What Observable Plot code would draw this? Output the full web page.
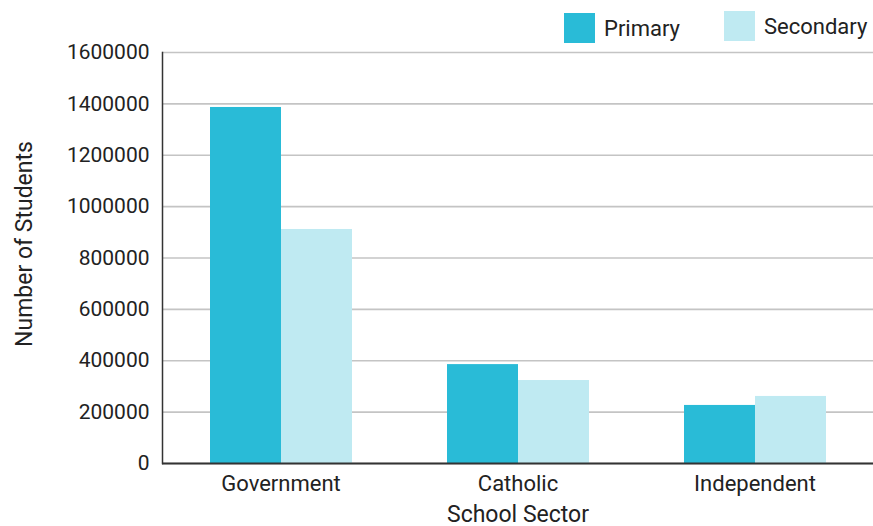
<!DOCTYPE html>
<html>
<head>
<meta charset="utf-8">
<script src="https://cdn.jsdelivr.net/npm/d3@7"></script>
<script src="https://cdn.jsdelivr.net/npm/@observablehq/plot@0.6"></script>
<style>
  body { margin: 0; background: #fff; font-family: Roboto, sans-serif; }
  #wrap { width: 873px; height: 526px; position: relative; overflow: hidden; }
  #legend { height: 40px; position: relative; }
  .item { position: absolute; display: flex; align-items: center; font-size: 22px; color: #222; }
  .sw { width: 31px; height: 30px; margin-right: 9px; }
</style>
</head>
<body>
<div id="wrap">
  <div id="legend"></div>
  <div id="chart"></div>
</div>
<script>
const sectors = ["Government", "Catholic", "Independent"];
const levels = ["Primary", "Secondary"];
const primary = [1386000, 385000, 226000];
const secondary = [911000, 323000, 261000];
const yTicks = [0, 200000, 400000, 600000, 800000, 1000000, 1200000, 1400000, 1600000];
const colors = ["#29BBD7", "#BFEAF2"];

const data = sectors.flatMap((s, i) => [
  {sector: s, level: levels[0], value: primary[i]},
  {sector: s, level: levels[1], value: secondary[i]}
]);

// legend
const legend = document.getElementById("legend");
const legendLeft = [564, 724];
const legendTop = [13, 11];
levels.forEach((l, i) => {
  const it = document.createElement("div");
  it.className = "item";
  it.style.left = legendLeft[i] + "px";
  it.style.top = legendTop[i] + "px";
  it.innerHTML = `<div class="sw" style="background:${colors[i]}"></div><span>${l}</span>`;
  legend.appendChild(it);
});

const chart = Plot.plot({
  width: 873,
  height: 486,
  marginLeft: 162,
  marginRight: 0,
  marginTop: 12,
  marginBottom: 63,
  style: {fontFamily: "Roboto, sans-serif", fontSize: "21px", color: "#222", background: "#fff", overflow: "visible"},
  fx: {domain: sectors, padding: 0, axis: null},
  x: {domain: levels, paddingInner: 0, paddingOuter: 0.66, axis: null},
  y: {domain: [0, 1600000], axis: null},
  color: {domain: levels, range: colors},
  marks: [
    Plot.gridY(yTicks, {stroke: "#c4c4c4", strokeOpacity: 1, strokeWidth: 1.6}),
    Plot.barY(data, {fx: "sector", x: "level", y: "value", fill: "level"}),
    Plot.ruleY([0], {stroke: "#333", strokeWidth: 2}),
    Plot.frame({anchor: "left", facetAnchor: "left", stroke: "#333", strokeWidth: 1.5}),
    Plot.axisY(yTicks, {tickSize: 0, tickPadding: 13, tickFormat: d3.format("d"),
      label: "Number of Students", labelArrow: "none", labelAnchor: "center", labelOffset: 147, fontSize: 21}),
    Plot.axisFx({anchor: "bottom", tickSize: 0, tickPadding: 12, label: "School Sector", labelArrow: "none",
      labelAnchor: "center", labelOffset: 58, fontSize: 22})
  ]
});
// larger font for the axis titles
chart.querySelectorAll("g[aria-label='y-axis label'] text, g[aria-label='fx-axis label'] text").forEach(t => t.setAttribute("font-size", 23));
chart.querySelectorAll("g[aria-label='y-axis label'] text").forEach(t => t.setAttribute("dx", 14));
document.getElementById("chart").appendChild(chart);
</script>
</body>
</html>
